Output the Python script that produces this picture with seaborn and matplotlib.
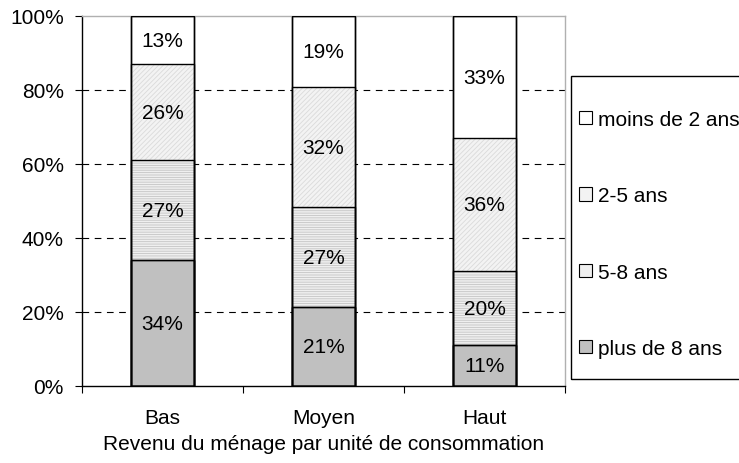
import pandas as pd
import matplotlib.pyplot as plt
import seaborn as sns
from matplotlib.patches import Rectangle, Patch

# --- DATA ---
categories = ["Bas", "Moyen", "Haut"]
series = ["plus de 8 ans", "5-8 ans", "2-5 ans", "moins de 2 ans"]
plus_8 = [34.0, 21.4, 11.0]
de_5_8 = [27.0, 26.9, 20.0]
de_2_5 = [26.0, 32.4, 36.0]
moins_2 = [13.0, 19.3, 33.0]

values = {"plus de 8 ans": plus_8, "5-8 ans": de_5_8,
          "2-5 ans": de_2_5, "moins de 2 ans": moins_2}

# styles per series: (face, hatch, hatch colour)
styles = {
    "plus de 8 ans": ("#c0c0c0", None, None),
    "5-8 ans": ("#efefef", "-------", "#c4c4c4"),
    "2-5 ans": ("#f3f3f3", "///////", "#dadada"),
    "moins de 2 ans": ("#ffffff", None, None),
}

df = pd.DataFrame(values, index=categories)
cum = df.cumsum(axis=1)

sns.set_theme(style="white")
plt.rcParams["font.family"] = ["Liberation Sans", "DejaVu Sans"]
plt.rcParams["hatch.linewidth"] = 0.6
plt.rcParams["text.color"] = "black"
plt.rcParams["xtick.color"] = "black"
plt.rcParams["ytick.color"] = "black"
plt.rcParams["axes.labelcolor"] = "black"

FS = 15

fig = plt.figure(figsize=(7.39, 4.64), dpi=100)
ax = fig.add_axes([82 / 739, 77 / 464, 483 / 739, 370 / 464])

W = 0.39
# draw tallest cumulative bar first, lower ones over it
for s in reversed(series):
    face, hatch, hcol = styles[s]
    d = pd.DataFrame({"cat": categories, "top": cum[s].values})
    sns.barplot(data=d, x="cat", y="top", order=categories, color=face,
                saturation=1, width=W, ax=ax, zorder=2,
                edgecolor=hcol if hatch else "black", linewidth=0 if hatch else 1)
    if hatch:
        for p in ax.containers[-1]:
            p.set_hatch(hatch)
            p.set_edgecolor(hcol)

# black outlines for every segment
for s in series:
    d = pd.DataFrame({"cat": categories, "top": cum[s].values})
    sns.barplot(data=d, x="cat", y="top", order=categories, fill=False,
                width=W, ax=ax, zorder=3, edgecolor="black", linewidth=1)

# labels centred in segments
for i, c in enumerate(categories):
    base = 0
    for s in series:
        v = df.loc[c, s]
        ax.text(i, base + v / 2, f"{round(v):.0f}%", ha="center", va="center",
                fontsize=FS, color="black", zorder=4)
        base += v

ax.set_ylim(0, 100)
ax.set_xlim(-0.5, 2.5)
ax.set_yticks(range(0, 101, 20))
ax.set_yticklabels([f"{t}%" for t in range(0, 101, 20)], fontsize=FS)
for y in (20, 40, 60, 80):
    ax.axhline(y, color="black", lw=0.8, ls=(0, (6, 5)), zorder=1)

ax.set_xticks(range(3))
ax.set_xticklabels(categories, fontsize=FS)
ax.set_xticks([-0.5, 0.5, 1.5, 2.5], minor=True)
ax.tick_params(axis="x", which="major", length=0, pad=16)
ax.tick_params(axis="x", which="minor", length=5, width=0.8, direction="out", color="black", bottom=True)
ax.tick_params(axis="y", length=5, width=0.8, direction="out", color="black", left=True, pad=8)
ax.set_xlabel("Revenu du ménage par unité de consommation", fontsize=FS, labelpad=5)
ax.set_ylabel("")

for side in ("left", "bottom"):
    ax.spines[side].set_color("black")
    ax.spines[side].set_linewidth(1)
for side in ("top", "right"):
    ax.spines[side].set_color("#b0b0b0")
    ax.spines[side].set_linewidth(1)

# legend
handles = []
for s in reversed(series):
    face, hatch, hcol = styles[s]
    handles.append(Patch(facecolor=face, edgecolor="black", lw=0.8, label=s))
fig.legend(handles=handles, loc="upper left", bbox_to_anchor=(579 / 739, 1 - 111 / 464),
           frameon=False, fontsize=FS, handlelength=0.6, handleheight=0.6,
           handletextpad=0.3, labelspacing=2.75, borderpad=0, borderaxespad=0)
fig.patches.append(Rectangle((571 / 739, 1 - 380 / 464), 0.3, 303 / 464,
                             transform=fig.transFigure, fill=False,
                             edgecolor="black", lw=1))

fig.savefig("out.png", dpi=100)
